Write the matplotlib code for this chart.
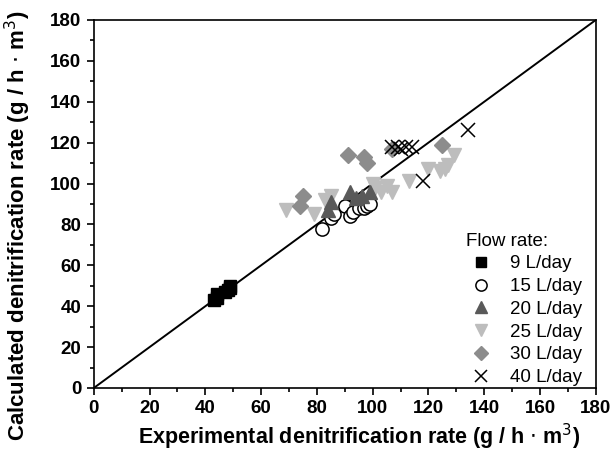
import matplotlib
matplotlib.use("Agg")
import matplotlib.pyplot as plt
from matplotlib.ticker import MultipleLocator

plt.rcParams['font.family'] = ['Liberation Sans', 'DejaVu Sans']

labels = ["9 L/day", "15 L/day", "20 L/day", "25 L/day", "30 L/day", "40 L/day"]

x9 = [43, 44, 44, 47, 48, 49, 49]
y9 = [43, 44, 46, 47, 48, 49, 50]

x15 = [82, 85, 86, 90, 92, 93, 95, 97, 98, 99]
y15 = [78, 83, 85, 89, 84, 86, 88, 88, 89, 90]

x20 = [84, 85, 92, 96, 99, 94]
y20 = [87, 91, 96, 94, 96, 93]

x25 = [69, 79, 83, 85, 100, 101, 103, 105, 107, 113, 120, 124, 126, 127, 129]
y25 = [87, 85, 92, 94, 100, 98, 96, 99, 96, 101, 107, 106, 107, 109, 114]

x30 = [74, 75, 91, 97, 98, 107, 125]
y30 = [89, 94, 114, 113, 110, 117, 119]

x40 = [107, 109, 110, 112, 114, 118, 134]
y40 = [118, 118, 117, 118, 118, 101, 126]

fig = plt.figure(figsize=(6.13, 4.53), dpi=100)
ax = fig.add_axes([0.153, 0.1435, 0.819, 0.8125])

ax.plot([0, 180], [0, 180], color='black', lw=1.4, zorder=1)

ms = 8.5
ax.plot(x9, y9, 's', color='black', ms=ms, label=labels[0], zorder=3)
ax.plot(x15, y15, 'o', mfc='white', mec='black', mew=1.1, ms=ms+1, label=labels[1], zorder=3)
ax.plot(x20, y20, '^', color='#595959', ms=ms+2, label=labels[2], zorder=3)
ax.plot(x25, y25, 'v', color='#bdbdbd', ms=ms+2, label=labels[3], zorder=2)
ax.plot(x30, y30, 'D', color='#8c8c8c', ms=ms, label=labels[4], zorder=2)
ax.plot(x40, y40, 'x', color='black', mew=1.1, ms=ms+2, label=labels[5], zorder=4)

ax.set_xlim(0, 180)
ax.set_ylim(0, 180)
ax.xaxis.set_major_locator(MultipleLocator(20))
ax.yaxis.set_major_locator(MultipleLocator(20))
ax.xaxis.set_minor_locator(MultipleLocator(10))
ax.yaxis.set_minor_locator(MultipleLocator(10))
ax.tick_params(which='both', direction='out', top=False, right=False, width=1.2)
ax.tick_params(which='major', length=5, labelsize=13.5, pad=4)
ax.tick_params(which='minor', length=3)
for lbl in ax.get_xticklabels() + ax.get_yticklabels():
    lbl.set_fontweight('bold')
for s in ax.spines.values():
    s.set_linewidth(1.2)

ax.set_xlabel(r"Experimental denitrification rate (g / h $\cdot$ m$^3$)", fontsize=15.5, fontweight='bold')
ax.set_ylabel(r"Calculated denitrification rate (g / h $\cdot$ m$^3$)", fontsize=16, fontweight='bold')
ax.xaxis.set_label_coords(0.528, -0.092)
ax.yaxis.set_label_coords(-0.122, 0.44)

leg = ax.legend(loc='lower right', bbox_to_anchor=(0.976, 0.0), frameon=False,
                title="Flow rate:", fontsize=13.5, title_fontsize=13.5,
                handletextpad=0.75, labelspacing=0.3, borderaxespad=0.0,
                borderpad=0.1, markerscale=0.85, handlelength=1.6)
leg._legend_box.align = "left"

fig.savefig("out.png", dpi=100)
